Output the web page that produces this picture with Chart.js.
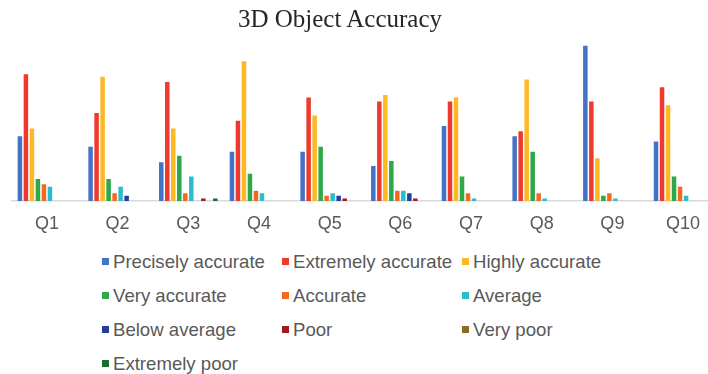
<!DOCTYPE html>
<html>
<head>
<meta charset="utf-8">
<script src="https://cdn.jsdelivr.net/npm/chart.js@4"></script>
<style>
    html, body { margin: 0; padding: 0; background: #fff; overflow: hidden; }
    #page { position: relative; width: 708px; height: 374px; overflow: hidden; }
    #title {
        position: absolute; left: 0; top: 6px; width: 680px;
        text-align: center; font: 25px/25px "Liberation Serif", "Times New Roman", serif; color: #262626;
    }
    #chart-box { position: absolute; left: 0; top: 0; width: 720px; height: 246px; }
    .legend-item {
        position: absolute; display: flex; align-items: center;
        font: 18.6px/19px "Liberation Sans", Arial, sans-serif; color: #595959; white-space: nowrap;
    }
    .legend-item .swatch { width: 7px; height: 7px; margin-right: 4px; }
</style>
</head>
<body>
<div id="page">
    <div id="chart-box"><canvas id="accuracyChart"></canvas></div>
    <div id="title">3D Object Accuracy</div>
    <div id="legend"></div>
</div>
<script>
// ---- data ----
const questions = ['Q1', 'Q2', 'Q3', 'Q4', 'Q5', 'Q6', 'Q7', 'Q8', 'Q9', 'Q10'];

const preciselyAccurate = [25, 21, 15, 19, 19, 13.5, 29, 25, 60, 23];
const extremelyAccurate = [49, 34, 46, 31, 40, 38.5, 38.5, 27, 38.5, 44];
const highlyAccurate    = [28, 48, 28, 54, 33, 41, 40, 47, 16.5, 37];
const veryAccurate      = [8.5, 8.5, 17.5, 10.5, 21, 15.5, 9.5, 19, 2, 9.5];
const accurate          = [6.5, 3, 3, 4, 2, 4, 3, 3, 3, 5.5];
const average           = [5.5, 5.5, 9.5, 3, 3, 4, 1, 1, 1, 2];
const belowAverage      = [0, 2, 0, 0, 2, 3, 0, 0, 0, 0];
const poor              = [0, 0, 1, 0, 1, 1, 0, 0, 0, 0];
const veryPoor          = [0, 0, 0, 0, 0, 0, 0, 0, 0, 0];
const extremelyPoor     = [0, 0, 1, 0, 0, 0, 0, 0, 0, 0];

const seriesNames = ['Precisely accurate', 'Extremely accurate', 'Highly accurate', 'Very accurate',
    'Accurate', 'Average', 'Below average', 'Poor', 'Very poor', 'Extremely poor'];
const seriesData = [preciselyAccurate, extremelyAccurate, highlyAccurate, veryAccurate,
    accurate, average, belowAverage, poor, veryPoor, extremelyPoor];
const seriesColors = ['#4472C4', '#EE3A2E', '#FDB924', '#2EA84A', '#F26A22',
    '#2DBCCF', '#203F9A', '#9C1C20', '#8D6B24', '#1C6A31'];

const datasets = seriesNames.map((name, i) => ({
    label: name,
    data: seriesData[i],
    backgroundColor: seriesColors[i],
    categoryPercentage: 0.85,
    barPercentage: 0.75
}));

const chart = new Chart(document.getElementById('accuracyChart'), {
    type: 'bar',
    data: { labels: questions, datasets: datasets },
    options: {
        responsive: true,
        maintainAspectRatio: false,
        animation: false,
        layout: { padding: { left: 11.6, right: 1.6, top: 35.4, bottom: 7.4 } },
        plugins: { legend: { display: false }, tooltip: { enabled: false } },
        scales: {
            x: {
                grid: { display: false },
                border: { display: true, color: '#D9D9D9', width: 1.5 },
                ticks: {
                    padding: 4,
                    color: '#595959',
                    font: { family: '"Liberation Sans", Arial, sans-serif', size: 18 }
                }
            },
            y: { display: false, min: 0, max: 64 }
        }
    }
});

// legend laid out in three columns like the original
const legend = document.getElementById('legend');
chart.data.datasets.forEach((ds, i) => {
    const col = i % 3, row = Math.floor(i / 3);
    const item = document.createElement('div');
    item.className = 'legend-item';
    item.style.left = (102 + col * 180) + 'px';
    item.style.top = (252.2 + row * 33.9) + 'px';
    item.innerHTML = `<span class="swatch" style="background:${ds.backgroundColor}"></span>${ds.label}`;
    legend.appendChild(item);
});
</script>
</body>
</html>
